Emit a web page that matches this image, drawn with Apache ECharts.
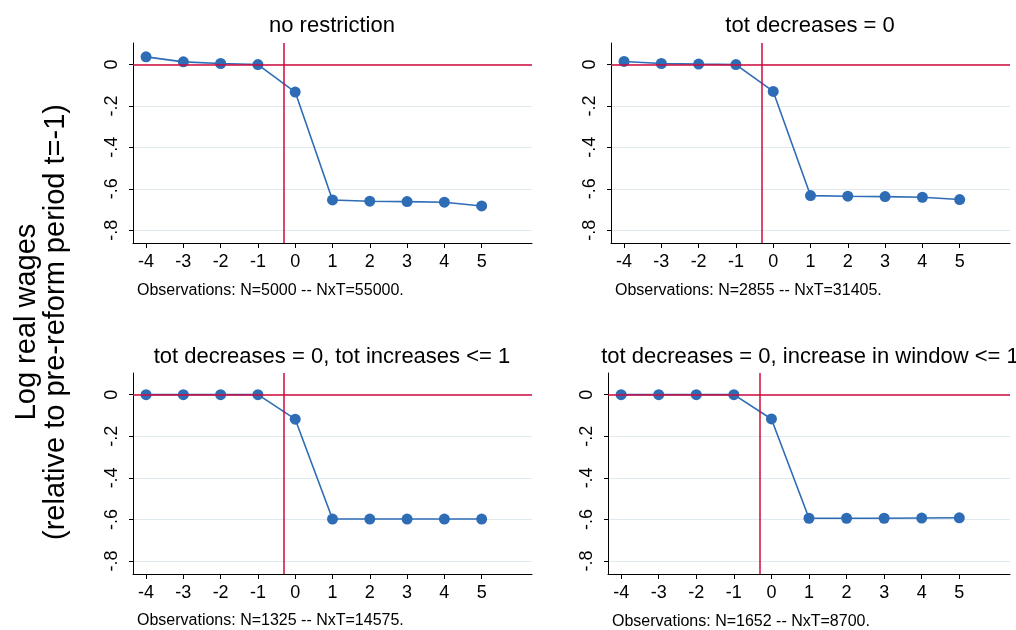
<!DOCTYPE html>
<html>
<head>
<meta charset="utf-8">
<script src="https://cdn.jsdelivr.net/npm/echarts@6/dist/echarts.min.js"></script>
<style>
html,body{margin:0;padding:0;background:#fff;}
#chart{width:1016px;height:630px;}
</style>
</head>
<body>
<div id="chart"></div>
<script>
// ---- data ----
const periods = [-4, -3, -2, -1, 0, 1, 2, 3, 4, 5];
const noRestriction = [0.037, 0.013, 0.005, 0.0, -0.133, -0.654, -0.660, -0.662, -0.665, -0.683];
const totDecreases0 = [0.015, 0.005, 0.002, 0.0, -0.130, -0.633, -0.636, -0.638, -0.641, -0.652];
const totDec0TotInc1 = [0.0, 0.0, 0.0, 0.0, -0.118, -0.598, -0.598, -0.598, -0.598, -0.598];
const totDec0WinInc1 = [0.0, 0.0, 0.0, 0.0, -0.117, -0.594, -0.594, -0.594, -0.593, -0.592];
const panelTitles = [
  'no restriction',
  'tot decreases = 0',
  'tot decreases = 0, tot increases <= 1',
  'tot decreases = 0, increase in window <= 1'
];
const panelNotes = [
  'Observations: N=5000 -- NxT=55000.',
  'Observations: N=2855 -- NxT=31405.',
  'Observations: N=1325 -- NxT=14575.',
  'Observations: N=1652 -- NxT=8700.'
];
const xTicks = [-4, -3, -2, -1, 0, 1, 2, 3, 4, 5];
const yTicks = [0, -0.2, -0.4, -0.6, -0.8];
const yTickLabels = ['0', '-.2', '-.4', '-.6', '-.8'];
const refX = -0.3;   // vertical reference line
const refY = 0;      // horizontal reference line
const yTitle1 = 'Log real wages';
const yTitle2 = '(relative to pre-reform period t=-1)';

const seriesData = [noRestriction, totDecreases0, totDec0TotInc1, totDec0WinInc1];

// ---- layout ----
const grids = [
  {left: 133, top: 43, width: 399, height: 200},
  {left: 611, top: 43, width: 399, height: 200},
  {left: 133, top: 373, width: 399, height: 201},
  {left: 608, top: 373, width: 402, height: 201}
];
const titlePos = [[332, 26], [810, 26], [332, 357], [810, 357]];
const notePos = [[137, 291], [615, 291], [137, 621], [612, 622]];

const FONT = 'Liberation Sans, Arial, sans-serif';
const BLUE = '#2e6cb6';
const RED = '#d10a3c';

const xAxes = [], yAxes = [], series = [], graphics = [];
for (let i = 0; i < 4; i++) {
  xAxes.push({
    type: 'value', gridIndex: i, min: -4.35, max: 6.35,
    axisLine: {show: true, onZero: false, lineStyle: {color: '#000', width: 1}},
    axisTick: {show: true, length: 5, customValues: xTicks, lineStyle: {color: '#000'}},
    axisLabel: {customValues: xTicks, color: '#000', fontSize: 18, fontFamily: FONT, margin: 10},
    splitLine: {show: false}
  });
  yAxes.push({
    type: 'value', gridIndex: i, min: -0.862, max: 0.104,
    axisLine: {show: true, onZero: false, lineStyle: {color: '#000', width: 1}},
    axisTick: {show: true, length: 4, customValues: yTicks, lineStyle: {color: '#000'}},
    axisLabel: {
      customValues: yTicks, rotate: 90, color: '#000', fontSize: 18, fontFamily: FONT, margin: 12,
      formatter: v => {
        const k = yTicks.findIndex(t => Math.abs(t - v) < 1e-6);
        return k >= 0 ? yTickLabels[k] : '';
      }
    },
    splitLine: {show: true, lineStyle: {color: '#e0e9ed', width: 1.2}}
  });
  // reference lines
  series.push({
    type: 'line', xAxisIndex: i, yAxisIndex: i, data: [], z: 1, silent: true,
    markLine: {
      silent: true, symbol: 'none', animation: false,
      label: {show: false},
      lineStyle: {color: RED, width: 1.5, type: 'solid'},
      data: [{yAxis: refY}, {xAxis: refX}]
    }
  });
  series.push({
    type: 'line', xAxisIndex: i, yAxisIndex: i, z: 3,
    data: periods.map((p, k) => [p, seriesData[i][k]]),
    symbol: 'circle', symbolSize: 11, showSymbol: true,
    lineStyle: {color: BLUE, width: 1.6},
    itemStyle: {color: BLUE},
    animation: false
  });
  graphics.push({
    type: 'text', x: titlePos[i][0], y: titlePos[i][1],
    style: {text: panelTitles[i], fill: '#000', font: '22px ' + FONT, textAlign: 'center', textVerticalAlign: 'middle'}
  });
  graphics.push({
    type: 'text', x: notePos[i][0], y: notePos[i][1],
    style: {text: panelNotes[i], fill: '#000', font: '16px ' + FONT, textAlign: 'left', textVerticalAlign: 'middle'}
  });
}
graphics.push({
  type: 'text', x: 27, y: 322, rotation: Math.PI / 2,
  style: {text: yTitle1, fill: '#000', font: '29px ' + FONT, textAlign: 'center', textVerticalAlign: 'middle'}
});
graphics.push({
  type: 'text', x: 56, y: 322, rotation: Math.PI / 2,
  style: {text: yTitle2, fill: '#000', font: '29px ' + FONT, textAlign: 'center', textVerticalAlign: 'middle'}
});

const chart = echarts.init(document.getElementById('chart'), null, {renderer: 'canvas'});
chart.setOption({
  backgroundColor: '#fff',
  animation: false,
  grid: grids,
  xAxis: xAxes,
  yAxis: yAxes,
  series: series,
  graphic: graphics
});
</script>
</body>
</html>
